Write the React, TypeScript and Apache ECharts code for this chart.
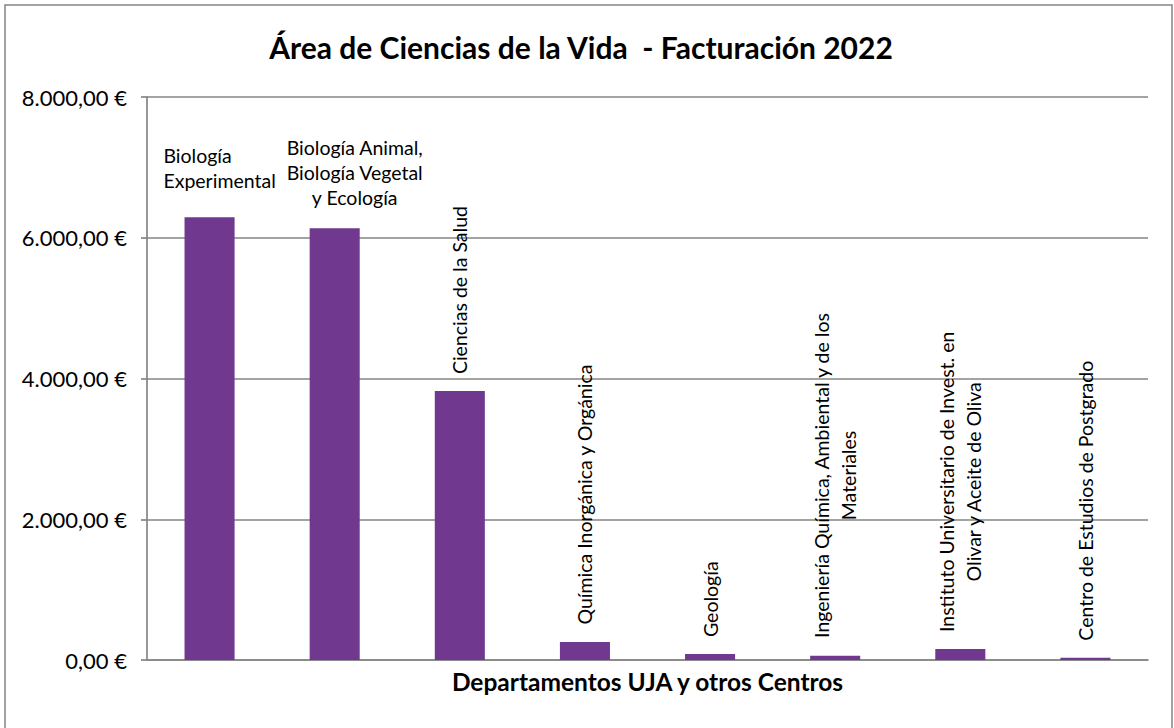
import React, { useEffect, useRef } from "react";
import * as echarts from "echarts";

const TITLE = "Área de Ciencias de la Vida  - Facturación 2022";
const X_AXIS_NAME = "Departamentos UJA y otros Centros";

const categories = [
  "Biología Experimental",
  "Biología Animal, Biología Vegetal y Ecología",
  "Ciencias de la Salud",
  "Química Inorgánica y Orgánica",
  "Geología",
  "Ingeniería Química, Ambiental y de los Materiales",
  "Instituto Universitario de Invest. en Olivar y Aceite de Oliva",
  "Centro de Estudios de Postgrado",
];

const labelLines: string[][] = [
  ["Biología", "Experimental"],
  ["Biología Animal,", "Biología Vegetal", "y Ecología"],
  ["Ciencias de la Salud"],
  ["Química Inorgánica y Orgánica"],
  ["Geología"],
  ["Ingeniería Química, Ambiental y de los", "Materiales"],
  ["Instituto Universitario de Invest. en", "Olivar y Aceite de Oliva"],
  ["Centro de Estudios de Postgrado"],
];

const values = [6293, 6136, 3821, 256, 85, 61, 156, 33];

const yMin = 0;
const yMax = 8000;
const yInterval = 2000;

const FONT = "Lato";
const GRAY = "#858585";
const PURPLE = "#70388F";
const LABEL_SIZE = 19.5;

function euro(v: number): string {
  const [i, d] = v.toFixed(2).split(".");
  return i.replace(/\B(?=(\d{3})+(?!\d))/g, ".") + "," + d + " €";
}

function makeLabel(i: number) {
  const lines = labelLines[i];
  const horizontal = i < 2;
  const key = i === 0 ? "l" : "c";
  const base = {
    fontFamily: FONT,
    fontSize: LABEL_SIZE,
    color: "#000",
    lineHeight: horizontal ? 25 : 27,
    align: i === 0 ? "left" : "center",
  };
  const formatter = lines.map((l) => `{${key}|${l}}`).join("\n");
  if (horizontal) {
    return {
      show: true,
      position: "top",
      distance: i === 0 ? 24 : 18,
      offset: [i === 0 ? 10 : 20, 0],
      rotate: 0,
      align: "center",
      verticalAlign: "bottom",
      formatter,
      fontFamily: FONT,
      fontSize: LABEL_SIZE,
      color: "#000",
      rich: { [key]: base },
    };
  }
  return {
    show: true,
    position: "top",
    distance: 17,
    rotate: 90,
    align: "left",
    verticalAlign: "middle",
    formatter,
    fontFamily: FONT,
    fontSize: LABEL_SIZE,
    color: "#000",
    rich: { [key]: base },
  };
}

export default function App() {
  const ref = useRef<HTMLDivElement>(null);
  useEffect(() => {
    if (!ref.current) return;
    const chart = echarts.init(ref.current, undefined, { renderer: "svg" });
    chart.setOption({
      animation: false,
      backgroundColor: "#ffffff",
      graphic: [
        {
          type: "rect",
          shape: { x: 5, y: 5, width: 1167, height: 740 },
          style: { fill: "none", stroke: GRAY, lineWidth: 1.5 },
          silent: true,
        },
        {
          type: "text",
          x: 581,
          y: 47,
          style: {
            text: TITLE,
            fontFamily: FONT,
            fontWeight: "bold",
            fontSize: 30,
            fill: "#000",
            align: "center",
            verticalAlign: "middle",
          },
          silent: true,
        },
      ],
      grid: {
        left: 147,
        right: 26,
        top: 97,
        bottom: 68,
        containLabel: false,
        outerBoundsMode: "none",
      },
      xAxis: {
        type: "category",
        data: categories,
        axisLine: { show: true, lineStyle: { color: GRAY, width: 1.7 } },
        axisTick: { show: false },
        axisLabel: { show: false },
        splitLine: { show: false },
        name: X_AXIS_NAME,
        nameLocation: "middle",
        nameGap: 9,
        nameTextStyle: {
          fontFamily: FONT,
          fontWeight: "bold",
          fontSize: 24.5,
          color: "#000",
          verticalAlign: "top",
        },
      },
      yAxis: {
        type: "value",
        min: yMin,
        max: yMax,
        interval: yInterval,
        axisLine: { show: true, lineStyle: { color: GRAY, width: 1.7 } },
        axisTick: { show: true, length: 6, lineStyle: { color: GRAY, width: 1.7 } },
        axisLabel: {
          fontFamily: FONT,
          fontSize: 22,
          color: "#000",
          margin: 20,
          formatter: (v: number) => euro(v),
        },
        splitLine: { show: true, lineStyle: { color: GRAY, width: 1.7 } },
      },
      series: [
        {
          type: "bar",
          barWidth: "40%",
          itemStyle: { color: PURPLE },
          data: values.map((v, i) => ({ value: v, label: makeLabel(i) })),
        },
      ],
    });
    return () => chart.dispose();
  }, []);
  return (
    <div
      ref={ref}
      style={{ position: "fixed", left: 0, top: 0, width: 1174, height: 728 }}
    />
  );
}
